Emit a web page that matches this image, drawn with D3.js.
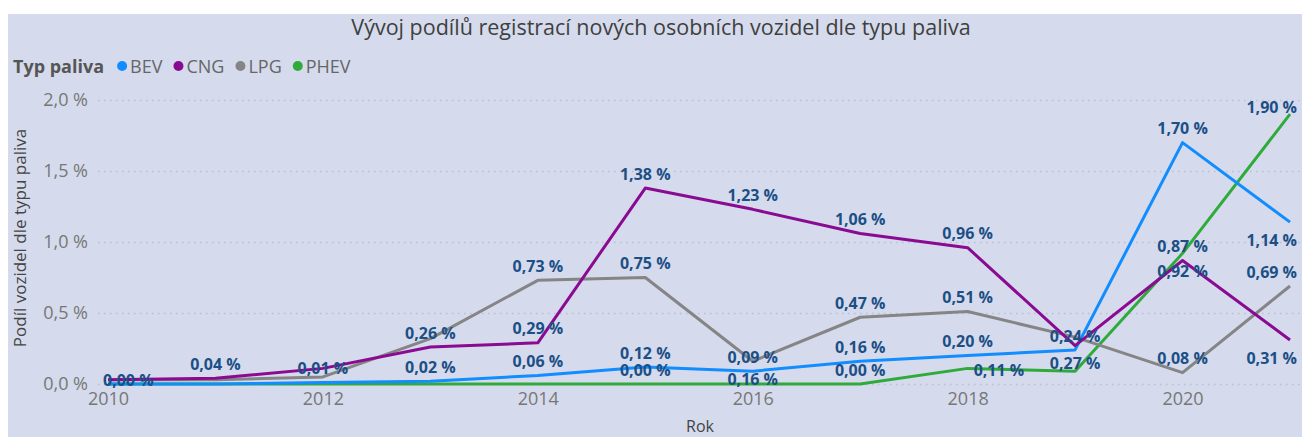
<!DOCTYPE html>
<html>
<head>
<meta charset="utf-8">
<script src="https://cdn.jsdelivr.net/npm/d3@7"></script>
<style>
  body { margin: 0; background: #fff; }
  svg { display: block; font-family: "Open Sans", "Noto Sans", sans-serif; }
</style>
</head>
<body>
<svg id="chart" width="1302" height="437"></svg>
<script>
// data
const years = [2010, 2011, 2012, 2013, 2014, 2015, 2016, 2017, 2018, 2019, 2020, 2021];
const bev  = [0.00, 0.00, 0.01, 0.02, 0.06, 0.12, 0.09, 0.16, 0.20, 0.24, 1.70, 1.14];
const cng  = [0.03, 0.04, 0.11, 0.26, 0.29, 1.38, 1.23, 1.06, 0.96, 0.27, 0.87, 0.31];
const lpg  = [0.03, 0.03, 0.05, 0.32, 0.73, 0.75, 0.16, 0.47, 0.51, 0.33, 0.08, 0.69];
const phev = [0.00, 0.00, 0.00, 0.00, 0.00, 0.00, 0.00, 0.00, 0.11, 0.09, 0.92, 1.90];
const seriesNames = ["BEV", "CNG", "LPG", "PHEV"];
const yTicks = [0, 0.5, 1.0, 1.5, 2.0];
const xTicks = [2010, 2012, 2014, 2016, 2018, 2020];

// which data labels Power BI kept visible, and on which side of the point
const shownLabels = {
  BEV:  {2010: "center", 2012: "above", 2013: "above", 2014: "above", 2015: "above", 2016: "above",
         2017: "above", 2018: "above", 2019: "above", 2020: "above", 2021: "below"},
  CNG:  {2011: "above", 2013: "above", 2014: "above", 2015: "above", 2016: "above", 2017: "above",
         2018: "above", 2019: "below", 2020: "above", 2021: "below"},
  LPG:  {2014: "above", 2015: "above", 2016: "below", 2017: "above", 2018: "above", 2020: "above", 2021: "above"},
  PHEV: {2015: "above", 2017: "above", 2018: "right", 2020: "below", 2021: "above"}
};

const colors = {BEV: "#118dff", CNG: "#8a0a92", LPG: "#858585", PHEV: "#2eab3a"};
const valuesBy = {BEV: bev, CNG: cng, LPG: lpg, PHEV: phev};

const svg = d3.select("#chart");
const W = 1302, H = 437;

// panel background
svg.append("rect")
    .attr("x", 8).attr("y", 14)
    .attr("width", W - 8).attr("height", H - 14)
    .attr("fill", "#d5dbec");

// title
svg.append("text")
    .attr("x", 661).attr("y", 35)
    .attr("text-anchor", "middle")
    .attr("font-size", 21.5)
    .attr("fill", "#3f3f3f")
    .text("Vývoj podílů registrací nových osobních vozidel dle typu paliva");

// legend
const legend = svg.append("g").attr("transform", "translate(13,66)");
const legTitle = legend.append("text")
    .attr("y", 6.5)
    .attr("font-size", 18)
    .attr("font-weight", "bold")
    .attr("fill", "#555")
    .text("Typ paliva");
let lx = legTitle.node().getComputedTextLength() + 13;
seriesNames.forEach(function(name) {
    legend.append("circle")
        .attr("cx", lx + 5).attr("cy", 0).attr("r", 5)
        .attr("fill", colors[name]);
    const t = legend.append("text")
        .attr("x", lx + 13).attr("y", 6.5)
        .attr("font-size", 18)
        .attr("fill", "#666")
        .text(name);
    lx += 13 + t.node().getComputedTextLength() + 11;
});

// scales
const x = d3.scaleLinear().domain([2010, 2021]).range([108, 1290]);
const y = d3.scaleLinear().domain([0, 2]).range([384, 100]);
const fmtTick = function(v) { return d3.format(".1f")(v).replace(".", ",") + " %"; };
const fmtLabel = function(v) { return d3.format(".2f")(v).replace(".", ",") + " %"; };

// y grid + ticks
const yAxis = svg.append("g")
    .attr("transform", "translate(98,0)")
    .call(d3.axisLeft(y).tickValues(yTicks).tickFormat(fmtTick).tickSize(-(W - 98)).tickPadding(10));
yAxis.select(".domain").remove();
yAxis.selectAll(".tick line")
    .attr("stroke", "#b7bfd6")
    .attr("stroke-width", 1.5)
    .attr("stroke-dasharray", "1.5,4.5");
yAxis.selectAll(".tick text")
    .attr("font-size", 18)
    .attr("fill", "#777")
    .attr("font-family", "'Open Sans', sans-serif");

// x ticks
const xAxis = svg.append("g")
    .attr("transform", "translate(0,389)")
    .call(d3.axisBottom(x).tickValues(xTicks).tickFormat(d3.format("d")).tickSize(0).tickPadding(3));
xAxis.select(".domain").remove();
xAxis.selectAll(".tick text")
    .attr("font-size", 18)
    .attr("fill", "#777")
    .attr("font-family", "'Open Sans', sans-serif");

// axis titles
svg.append("text")
    .attr("transform", "translate(26,238) rotate(-90)")
    .attr("text-anchor", "middle")
    .attr("font-size", 17)
    .attr("fill", "#444")
    .text("Podíl vozidel dle typu paliva");
svg.append("text")
    .attr("x", 700).attr("y", 432)
    .attr("text-anchor", "middle")
    .attr("font-size", 16)
    .attr("fill", "#444")
    .text("Rok");

// lines
const line = d3.line()
    .x(function(d) { return x(d.year); })
    .y(function(d) { return y(d.value); });

const drawOrder = ["PHEV", "BEV", "LPG", "CNG"];
drawOrder.forEach(function(name) {
    const pts = years.map(function(yr, i) { return {year: yr, value: valuesBy[name][i]}; });
    svg.append("path")
        .datum(pts)
        .attr("fill", "none")
        .attr("stroke", colors[name])
        .attr("stroke-width", 3)
        .attr("stroke-linejoin", "round")
        .attr("d", line);
});

// data labels
const labelG = svg.append("g");
seriesNames.forEach(function(name) {
    years.forEach(function(yr, i) {
        const pos = shownLabels[name][yr];
        if (!pos) return;
        const v = valuesBy[name][i];
        const px = x(yr), py = y(v);
        let cy = py - 14, anchor = "middle", tx = px;
        if (pos === "below") cy = py + 18;
        if (pos === "center") cy = py - 4;
        if (pos === "right") { cy = py + 2; anchor = "start"; tx = px + 6; }
        cy = Math.max(cy, 107);
        const t = labelG.append("text")
            .attr("x", tx).attr("y", cy)
            .attr("dy", "0.35em")
            .attr("text-anchor", anchor)
            .attr("font-size", 16)
            .attr("font-weight", "bold")
            .attr("fill", "#1c4f86")
            .text(fmtLabel(v));
        // keep labels inside the plot horizontally
        const b = t.node().getBBox();
        if (b.x + b.width > 1297) t.attr("x", tx - (b.x + b.width - 1297));
        if (b.x < 103) t.attr("x", tx + (103 - b.x));
    });
});
</script>
</body>
</html>
